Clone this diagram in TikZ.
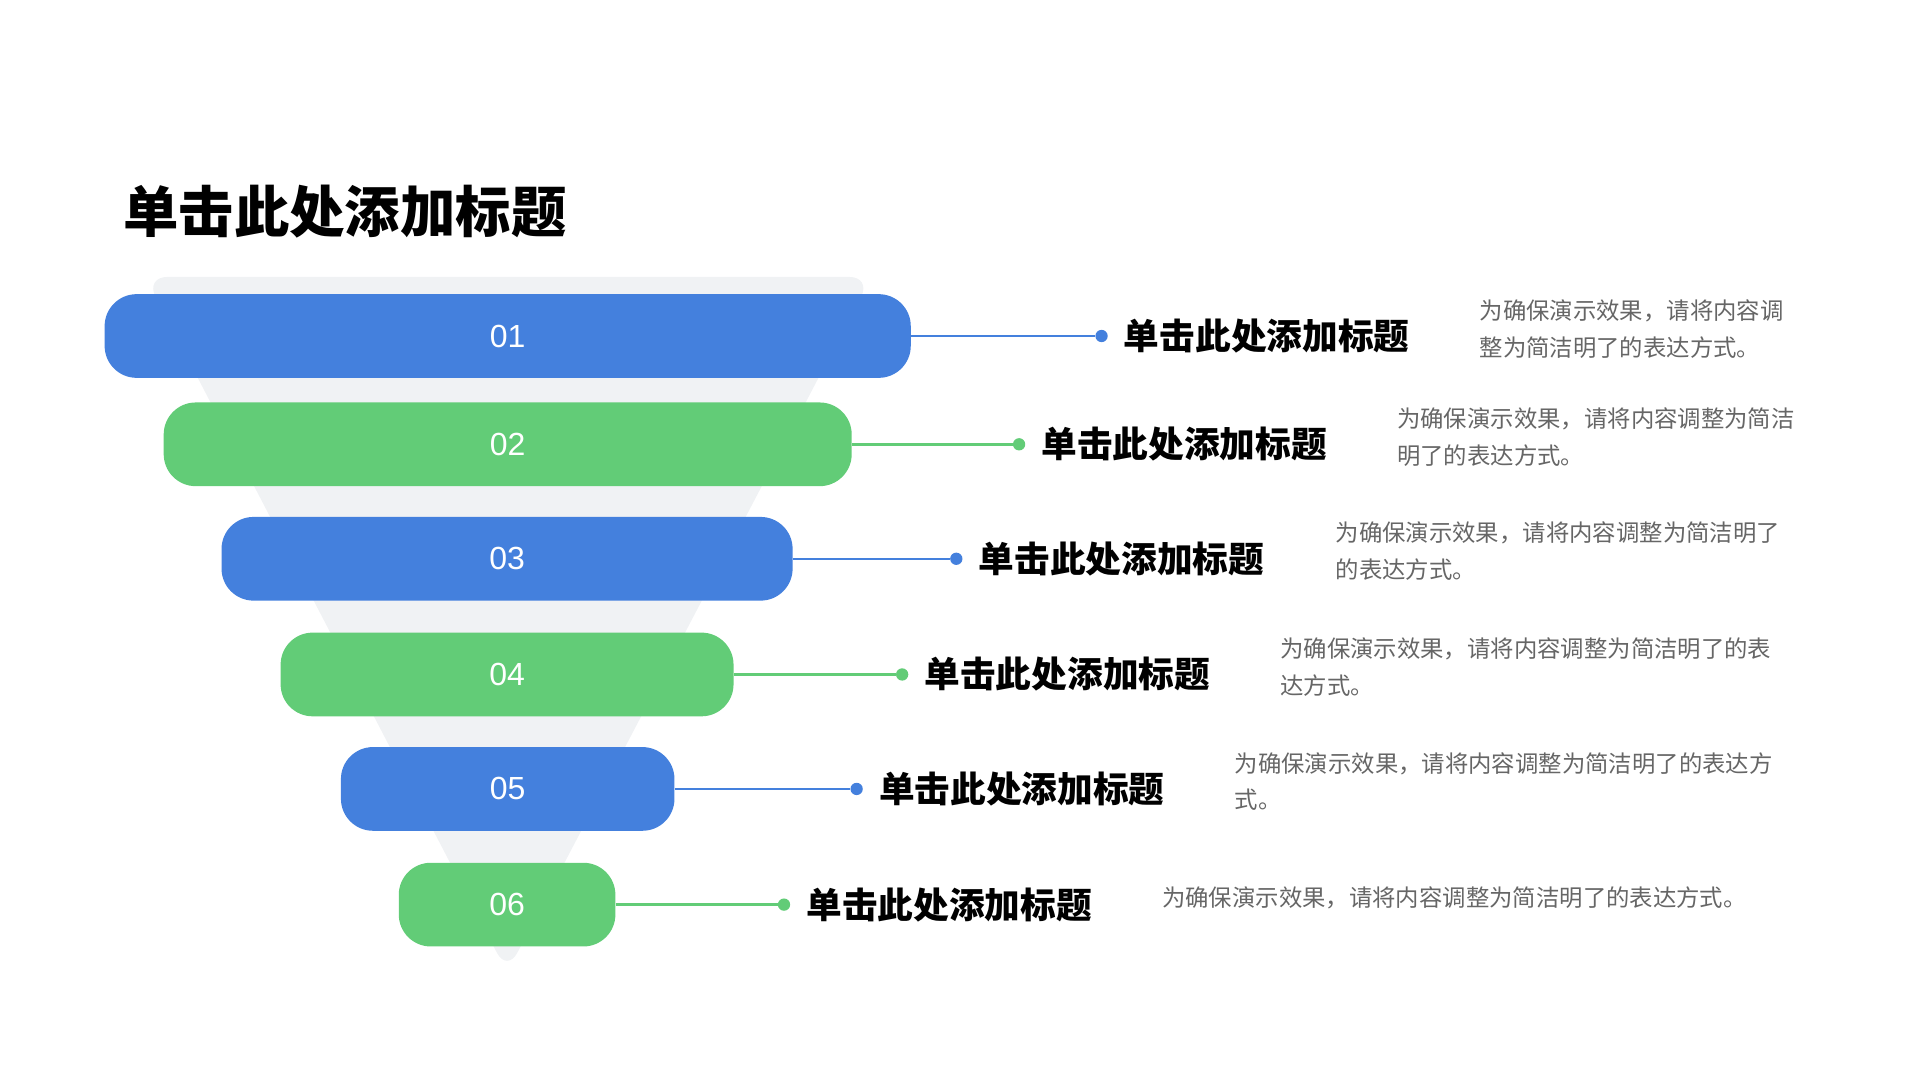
\documentclass[tikz,border=0pt]{standalone}
\usepackage{fontspec}
\setmainfont{Liberation Sans}
\newfontfamily\cjk{Noto Sans CJK SC}
\definecolor{cblue}{HTML}{4480DD}
\definecolor{cgreen}{HTML}{62CC77}
\definecolor{funnel}{HTML}{F0F2F4}
\definecolor{desc}{HTML}{666666}
\tikzset{
 barbox/.style={rounded corners=26pt, minimum height=68pt, inner sep=0pt, text=white, font=\fontsize{26}{30}\selectfont},
 dotpt/.style={circle, inner sep=0pt, minimum size=10pt},
 lbl/.style={anchor=west, inner sep=0pt, font=\cjk\bfseries\fontsize{29}{34}\selectfont},
 dsc/.style={anchor=north west, inner sep=0pt, align=left, text=desc, font=\cjk\fontsize{19}{30}\selectfont},
}
\begin{document}
\begin{tikzpicture}[x=1pt,y=-1pt]
\useasboundingbox (0,0) rectangle (1560,877.5);
\fill[funnel, rounded corners=18pt] (118,225) -- (708,225) -- (412,790) -- cycle;
\node[anchor=west, inner sep=0pt, font=\cjk\bfseries\fontsize{45}{50}\selectfont] (title) at (100,172) {单击此处添加标题};
\foreach \i/\l/\r/\y/\c/\d/\dx/\ta/\tb in {
 1/85/740/273/cblue/895/1202/为确保演示效果，请将内容调/整为简洁明了的表达方式。,
 2/133/692/361/cgreen/828/1135/为确保演示效果，请将内容调整为简洁/明了的表达方式。,
 3/180/644/454/cblue/777/1085/为确保演示效果，请将内容调整为简洁明了/的表达方式。,
 4/228/596/548/cgreen/733/1040/为确保演示效果，请将内容调整为简洁明了的表/达方式。,
 5/277/548/641/cblue/696/1003/为确保演示效果，请将内容调整为简洁明了的表达方/式。}{
 \node[barbox, fill=\c, minimum width={\r-\l}] (b\i) at ({(\l+\r)/2},\y) {0\i};
 \node[dotpt, fill=\c] (d\i) at (\d,\y) {};
 \draw[\c, line width=2pt] (b\i.east) -- (d\i);
 \node[lbl] (t\i) at (\d+18,\y) {单击此处添加标题};
 \node[dsc] (s\i) at (\dx,\y-30) {\ta\\\tb};
}
\node[barbox, fill=cgreen, minimum width=176] (b6) at (412,735) {06};
\node[dotpt, fill=cgreen] (d6) at (637,735) {};
\draw[cgreen, line width=2pt] (b6.east) -- (d6);
\node[lbl] (t6) at (655,735) {单击此处添加标题};
\node[dsc] (s6) at (944,720) {为确保演示效果，请将内容调整为简洁明了的表达方式。};
\end{tikzpicture}
\end{document}
